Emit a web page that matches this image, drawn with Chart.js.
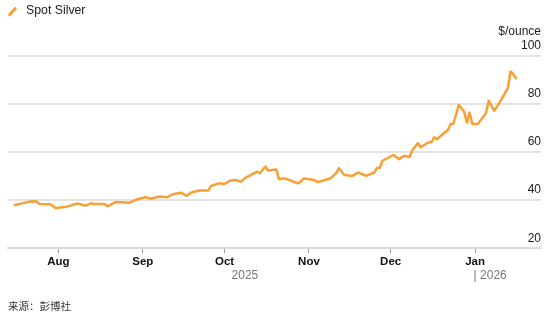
<!DOCTYPE html>
<html>
<head>
<meta charset="utf-8">
<script src="https://cdn.jsdelivr.net/npm/chart.js@4.4.1/dist/chart.umd.min.js"></script>
<style>
  html, body { margin: 0; padding: 0; background: #fff; }
  #wrap { position: relative; width: 554px; height: 326px; font-family: "Liberation Sans", Arial, sans-serif; }
  #chart { position: absolute; left: 0; top: 0; }
  #legend .swatch { position: absolute; left: 11px; top: 6px; width: 2.5px; height: 11px; background: #f7a035; transform: rotate(42deg); border-radius: 1px; }
  #legend .label { position: absolute; left: 26px; top: 3px; font-size: 12.3px; line-height: 15px; color: #222; white-space: nowrap; }
  #source { position: absolute; left: 8px; top: 299px; font-size: 10.5px; line-height: 14px; color: #333; font-family: "Noto Sans CJK SC", sans-serif; }
</style>
</head>
<body>
<div id="wrap">
  <canvas id="chart" width="554" height="326"></canvas>
  <div id="legend"><span class="swatch"></span><span class="label">Spot Silver</span></div>
  <div id="source">来源：彭博社</div>
</div>
<script>
// days counted from Aug 1, 2025
const dayOffsets = [-16, -10, -8, -7, -3, -1, 3, 7, 10, 12, 13, 17, 18, 21, 26, 29,
  32, 34, 37, 40, 42, 45, 47, 49, 52, 55, 56, 59,
  61, 63, 65, 67, 69, 73, 74, 76, 77, 80, 81, 83, 88, 89, 90,
  94, 95, 97, 100, 102, 103, 105, 108, 110, 113, 116, 117, 118, 119,
  123, 124, 125, 127, 129, 130, 132, 133, 136, 137, 138, 139, 141, 143, 144, 145, 147, 149, 150, 151, 152,
  154, 157, 158, 160, 162, 165, 166, 167, 168];
const prices = [38.0, 39.5, 39.4, 38.4, 38.3, 36.7, 37.3, 38.6, 37.7, 38.7, 38.4, 38.4, 37.4, 39.2, 38.9, 40.4,
  41.2, 40.6, 41.5, 41.2, 42.5, 43.1, 41.8, 43.3, 44.0, 44.0, 45.9, 47.0,
  46.7, 48.1, 48.4, 47.7, 49.5, 51.9, 51.2, 54.0, 52.3, 52.8, 48.7, 49.1, 47.0, 47.7, 49.0,
  48.4, 47.5, 48.1, 49.1, 51.2, 53.3, 50.5, 50.1, 51.5, 50.1, 51.5, 53.4, 53.5, 56.4,
  58.8, 58.1, 57.1, 58.4, 58.1, 60.9, 63.7, 62.0, 64.1, 64.1, 66.2, 65.3, 67.3, 69.2, 71.7, 71.7, 79.6, 76.8, 72.2, 76.4, 71.7,
  71.7, 76.2, 81.4, 77.2, 80.6, 86.6, 93.5, 92.5, 90.7];

const monthTicks = [0, 31, 61, 92, 122, 153];
const monthLabels = ['Aug', 'Sep', 'Oct', 'Nov', 'Dec', 'Jan'];
const yearLabels = ['2025', '| 2026'];
const yTicks = [20, 40, 60, 80, 100];
const unitLabel = '$/ounce';

const orange = '#f7a035';
const fontFamily = '"Liberation Sans", Arial, sans-serif';

// extra texts: unit above the axis and the year row
const extraText = {
  id: 'extraText',
  afterDraw(chart) {
    const { ctx, chartArea } = chart;
    const x = chart.scales.x;
    const y = chart.scales.y;
    ctx.save();
    ctx.textBaseline = 'middle';

    ctx.font = '12px ' + fontFamily;
    ctx.fillStyle = '#222';
    ctx.textAlign = 'right';
    ctx.fillText(unitLabel, chartArea.right, y.getPixelForValue(yTicks[yTicks.length - 1]) - 24);

    const janX = x.getPixelForValue(monthTicks[5]);
    const startX = x.getPixelForValue(dayOffsets[0]);
    const yearY = chartArea.bottom + 27;
    ctx.fillStyle = '#777';
    ctx.textAlign = 'center';
    ctx.fillText(yearLabels[0], (startX + janX) / 2, yearY);
    ctx.textAlign = 'left';
    ctx.fillText(yearLabels[1], janX - 1.5, yearY);
    ctx.restore();
  }
};

new Chart(document.getElementById('chart'), {
  type: 'line',
  data: {
    datasets: [{
      label: 'Spot Silver',
      data: dayOffsets.map((d, i) => ({ x: d, y: prices[i] })),
      borderColor: orange,
      borderWidth: 2.5,
      borderJoinStyle: 'round',
      borderCapStyle: 'round',
      pointRadius: 0,
      tension: 0,
      fill: false
    }]
  },
  options: {
    responsive: false,
    animation: false,
    layout: { padding: { top: 56, left: 8, right: 13, bottom: 55 } },
    plugins: {
      legend: { display: false },
      tooltip: { enabled: false }
    },
    scales: {
      x: {
        type: 'linear',
        min: -18.5,
        max: 177.2,
        afterBuildTicks: (scale) => { scale.ticks = monthTicks.map(v => ({ value: v })); },
        ticks: {
          autoSkip: false,
          maxRotation: 0,
          padding: 2,
          color: '#111',
          font: { family: fontFamily, size: 11.5, weight: 'bold' },
          callback: (v) => monthLabels[monthTicks.indexOf(v)]
        },
        grid: { drawOnChartArea: false, drawTicks: true, tickLength: 5, tickColor: '#999', lineWidth: 1 },
        border: { display: true, color: '#dcdcdc', width: 2 }
      },
      y: {
        type: 'linear',
        position: 'right',
        min: 20,
        max: 100,
        afterBuildTicks: (scale) => { scale.ticks = yTicks.map(v => ({ value: v })); },
        ticks: {
          mirror: true,
          padding: 0,
          labelOffset: -10,
          color: '#222',
          font: { family: fontFamily, size: 12 }
        },
        grid: { color: '#e4e4e4', lineWidth: 2, drawTicks: false },
        border: { display: false }
      }
    }
  },
  plugins: [extraText]
});
</script>
</body>
</html>
